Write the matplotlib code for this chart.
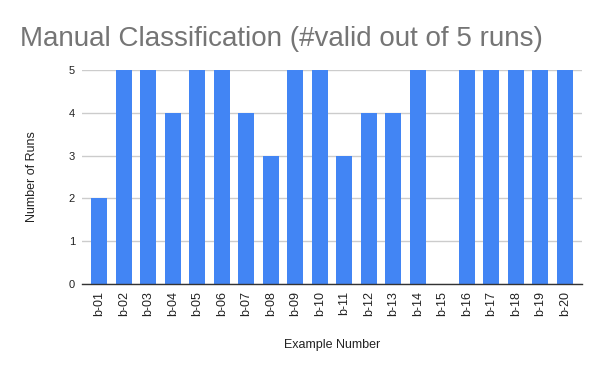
import matplotlib
matplotlib.use("Agg")
import matplotlib.pyplot as plt

categories = [f"b-{i:02d}" for i in range(1, 21)]
runs = [2, 5, 5, 4, 5, 5, 4, 3, 5, 5, 3, 4, 4, 5, 0, 5, 5, 5, 5, 5]
yticks = [0, 1, 2, 3, 4, 5]

plt.rcParams['font.family'] = ['Liberation Sans', 'DejaVu Sans']

fig = plt.figure(figsize=(6, 3.71), dpi=100)
ax = fig.add_axes([82/600, 1-284/371, 500/600, 214/371])

x = list(range(len(categories)))
ax.bar(x, runs, width=0.65, color='#4285F4', zorder=3)
ax.set_xlim(-0.7, len(categories) - 0.3)
ax.set_ylim(0, 5)
ax.set_yticks(yticks)
ax.set_yticklabels([str(v) for v in yticks], fontsize=8, color='#222222')
ax.set_xticks(x)
ax.set_xticklabels(categories, rotation=90, fontsize=9, color='#222222')
ax.tick_params(axis='both', length=0, pad=5)
ax.grid(axis='y', color='#cccccc', linewidth=1, zorder=0)
for s in ['top', 'right', 'left']:
    ax.spines[s].set_visible(False)
ax.spines['bottom'].set_color('#333333')
ax.spines['bottom'].set_linewidth(1)
ax.spines['bottom'].set_zorder(4)

fig.text(20/600, 1-39/371, "Manual Classification (#valid out of 5 runs)",
         fontsize=20, color='#757575', ha='left', va='center')
fig.text(32/600, 1-177/371, "Number of Runs", rotation=90, fontsize=9,
         color='#222222', ha='center', va='center')
fig.text(332/600, 1-345/371, "Example Number", fontsize=9,
         color='#222222', ha='center', va='center')

fig.savefig("out.png", dpi=100)
